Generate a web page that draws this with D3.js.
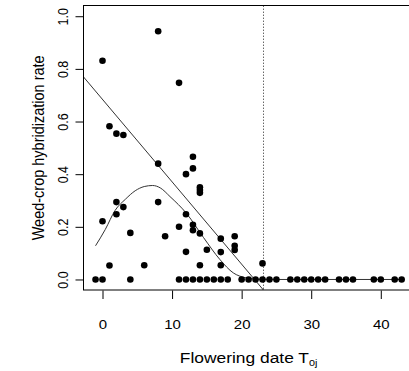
<!DOCTYPE html>
<html>
<head>
<meta charset="utf-8">
<script src="https://cdn.jsdelivr.net/npm/d3@7"></script>
<style>
  body { margin: 0; background: #fff; }
  svg { display: block; font-family: "Liberation Sans", Arial, sans-serif; }
</style>
</head>
<body>
<svg id="chart" width="409" height="371"></svg>
<script>
// observed points: flowering date and hybridization rate
var dateX = [-1, 0, 0, 0, 1, 1, 2, 2, 2, 3, 3, 4, 4, 6, 8, 8, 8, 9,
  11, 11, 11, 12, 12, 12, 12, 13, 13, 13, 13, 13,
  14, 14, 14, 14, 14, 14, 15, 15, 16, 17, 17, 17, 17, 18,
  19, 19, 19, 20, 21, 22, 23, 23, 24, 25, 27, 28, 29, 30, 31, 32,
  34, 35, 36, 39, 40, 42, 43];
var rateY = [0, 0.831, 0.221, 0, 0.582, 0.053, 0.554, 0.294, 0.248, 0.549, 0.275, 0.177, 0, 0.054, 0.943, 0.44, 0.294, 0.164,
  0.747, 0.2, 0, 0.4, 0.248, 0.105, 0, 0.466, 0.422, 0.208, 0.187, 0,
  0.35, 0.34, 0.329, 0.175, 0.054, 0, 0.113, 0, 0, 0.155, 0.104, 0.054, 0, 0,
  0.164, 0.128, 0.112, 0, 0, 0, 0.061, 0, 0, 0, 0, 0, 0, 0, 0, 0,
  0, 0, 0, 0, 0, 0, 0];

// fitted hump curve
var curveX = [-1, 0.4, 1.8, 3.3, 4.7, 6.0, 7.2, 8.3, 9.7, 12.1, 14.5, 16.9, 18.8, 20.5, 22.5, 25, 43];
var curveY = [0.128, 0.19, 0.262, 0.305, 0.337, 0.353, 0.357, 0.348, 0.315, 0.25, 0.16, 0.075, 0.025, 0.007, 0.001, 0, 0];

// straight regression line
var trendIntercept = 0.684;
var trendSlope = -0.0313;

// threshold date (dotted line)
var thresholdDate = 23;

var xTicks = [0, 10, 20, 30, 40];
var yTicks = [0, 0.2, 0.4, 0.6, 0.8, 1.0];

var stretch = 1.2; // the original picture is a bit wider than tall

var svg = d3.select("#chart");

var x = d3.scaleLinear().domain([-2.76, 44.76]).range([83.3, 413.9]);
var y = d3.scaleLinear().domain([-0.04, 1.04]).range([290, 5.7]);

svg.append("defs").append("clipPath")
  .attr("id", "plotclip")
  .append("rect")
  .attr("x", x.range()[0]).attr("y", y.range()[1])
  .attr("width", x.range()[1] - x.range()[0])
  .attr("height", y.range()[0] - y.range()[1]);

var plot = svg.append("g").attr("clip-path", "url(#plotclip)");

// dotted vertical line
plot.append("line")
  .attr("x1", Math.round(x(thresholdDate)) + 0.5)
  .attr("x2", Math.round(x(thresholdDate)) + 0.5)
  .attr("y1", y.range()[1]).attr("y2", y.range()[0])
  .attr("stroke", "#222")
  .attr("stroke-width", 1)
  .attr("stroke-dasharray", "1,2");

// regression line
var tx = x.domain();
plot.append("line")
  .attr("x1", x(tx[0])).attr("y1", y(trendIntercept + trendSlope * tx[0]))
  .attr("x2", x(tx[1])).attr("y2", y(trendIntercept + trendSlope * tx[1]))
  .attr("stroke", "#333")
  .attr("stroke-width", 1);

// hump curve
var line = d3.line()
  .x(function(d) { return x(d[0]); })
  .y(function(d) { return y(d[1]); })
  .curve(d3.curveMonotoneX);

plot.append("path")
  .datum(d3.zip(curveX, curveY))
  .attr("d", line)
  .attr("fill", "none")
  .attr("stroke", "#333")
  .attr("stroke-width", 1);

// points
plot.selectAll("circle")
  .data(d3.zip(dateX, rateY))
  .enter()
  .append("circle")
  .attr("cx", function(d) { return x(d[0]); })
  .attr("cy", function(d) { return y(d[1]); })
  .attr("r", 3.3)
  .attr("fill", "#000");

// box
svg.append("rect")
  .attr("x", 83.5).attr("y", 5.5)
  .attr("width", 340).attr("height", 284.5)
  .attr("fill", "none")
  .attr("stroke", "#000")
  .attr("stroke-width", 1);

// x axis
var xAxis = svg.append("g")
  .attr("transform", "translate(0,290.5)")
  .call(d3.axisBottom(x).tickValues(xTicks).tickSize(8.5).tickFormat(d3.format("d")));
xAxis.select(".domain").remove();
xAxis.selectAll("line").attr("stroke", "#000");
xAxis.selectAll("text")
  .attr("y", 0).attr("dy", 0)
  .attr("transform", "translate(0,38) scale(" + stretch + ",1)")
  .attr("font-size", 12.5)
  .attr("font-family", "Liberation Sans, Arial, sans-serif")
  .attr("fill", "#000");

// y axis
var yAxis = svg.append("g")
  .attr("transform", "translate(83.5,0)")
  .call(d3.axisLeft(y).tickValues(yTicks).tickSize(8).tickFormat(d3.format(".1f")));
yAxis.select(".domain").remove();
yAxis.selectAll("line").attr("stroke", "#000");
yAxis.selectAll("text")
  .attr("x", 0).attr("dy", 0)
  .attr("text-anchor", "middle")
  .attr("transform", "translate(-15.5,0) scale(" + stretch + ",1) rotate(-90)")
  .attr("font-size", 12.5)
  .attr("font-family", "Liberation Sans, Arial, sans-serif")
  .attr("fill", "#000");

// axis titles
var midX = (x.range()[0] + x.range()[1]) / 2;
var xTitle = svg.append("text")
  .attr("transform", "translate(" + midX + ",363) scale(" + stretch + ",1)")
  .attr("text-anchor", "middle")
  .attr("font-size", 14.5)
  .attr("fill", "#000");
xTitle.append("tspan").text("Flowering date T");
xTitle.append("tspan").attr("font-size", 9).attr("dy", 2.5).text("0j");

var midY = (y.range()[0] + y.range()[1]) / 2;
svg.append("text")
  .attr("transform", "translate(44," + midY + ") scale(" + stretch + ",1) rotate(-90)")
  .attr("text-anchor", "middle")
  .attr("font-size", 14.5)
  .attr("fill", "#000")
  .text("Weed-crop hybridization rate");
</script>
</body>
</html>
